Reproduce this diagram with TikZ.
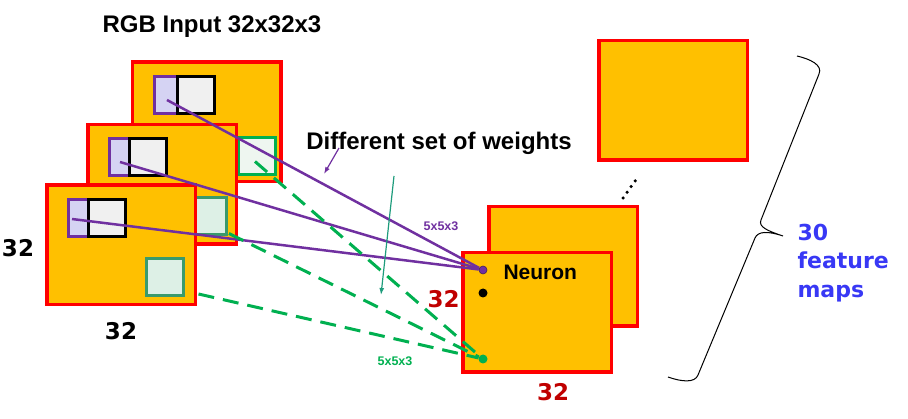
\documentclass[tikz,border=0pt]{standalone}
\usepackage{fontspec}
\setmainfont{Liberation Sans}
\newfontfamily\verdana{DejaVu Sans}
\usetikzlibrary{arrows.meta, calc}

\definecolor{ouro}{HTML}{FFC000}
\definecolor{vermelho}{HTML}{FF0000}
\definecolor{roxo}{HTML}{7030A0}
\definecolor{lavanda}{HTML}{D5D3F3}
\definecolor{cinza}{HTML}{F0F0F0}
\definecolor{verde}{HTML}{00B050}
\definecolor{verdeesc}{HTML}{3A9A6C}
\definecolor{verdeclaro}{HTML}{DDF0E6}
\definecolor{verdeb}{HTML}{EEF6F0}
\definecolor{vinho}{HTML}{C00000}
\definecolor{azul}{HTML}{3838F5}
\definecolor{turquesa}{HTML}{1E9C7C}

\tikzset{
  mapa/.style={draw=vermelho, fill=ouro, line width=3.5pt, inner sep=0pt,
               minimum width=148.5pt, minimum height=119.5pt},
  quadro/.style={line width=3pt, inner sep=0pt, minimum size=37pt},
  ponto/.style={circle, inner sep=0pt, minimum size=8pt},
  titulo/.style={font=\bfseries\fontsize{24}{28}\selectfont},
  dim/.style={font=\verdana\bfseries\fontsize{23}{28}\selectfont},
  peso/.style={font=\bfseries\fontsize{12.5}{14}\selectfont},
  ligroxo/.style={draw=roxo, line width=2.5pt},
  ligverde/.style={draw=verde, line width=3pt, dash pattern=on 16pt off 9pt}
}

\begin{document}
\begin{tikzpicture}[x=1pt, y=-1pt]
  \useasboundingbox (0,0) rectangle (908,419);
  % Entrada RGB (tres canais)
  \node[mapa] (inB) at (206.5,122) {};
  \node[quadro, draw=roxo, fill=lavanda] (pB) at (173,95) {};
  \node[quadro, draw=black, fill=cinza] (kB) at (195.5,95) {};
  \node[quadro, draw=verde, fill=verdeb] (gB) at (257,156.5) {};
  \node[mapa] (inM) at (162,184.5) {};
  \node[quadro, draw=roxo, fill=lavanda] (pM) at (128,157) {};
  \node[quadro, draw=black, fill=cinza] (kM) at (148,157) {};
  \node[quadro, draw=verdeesc, fill=verdeclaro] (gM) at (208,216.5) {};
  \node[mapa] (inF) at (121,245) {};
  \node[quadro, draw=roxo, fill=lavanda] (pF) at (87,218) {};
  \node[quadro, draw=black, fill=cinza] (kF) at (106.5,218) {};
  \node[quadro, draw=verdeesc, fill=verdeclaro] (gF) at (164.5,277) {};
  % Mapas de ativacao
  \node[mapa] (outT) at (673,100.5) {};
  \node[mapa] (outB) at (563,266.5) {};
  \node[mapa] (outF) at (537,312.5) {};
  \node[ponto, fill=roxo, draw=roxo!60!black, line width=0.6pt] (neuronio) at (483,270) {};
  \node[ponto, fill=black, minimum width=7pt, minimum height=9pt] (pontopreto) at (483,293) {};
  \node[ponto, fill=verde, minimum size=9pt] (neuroverde) at (483,359) {};
  % Ligacoes (pesos)
  \draw[ligroxo] ($(pB.center)+(-6,5)$) -- (neuronio);
  \draw[ligroxo] ($(pM.center)+(-8,5)$) -- (neuronio);
  \draw[ligroxo] ($(pF.center)+(-15,1)$) -- (neuronio);
  \draw[ligverde] ($(gB.center)+(-2,5)$) -- (neuroverde);
  \draw[ligverde] ($(gM.south east)+(1,-3)$) -- (neuroverde);
  \draw[ligverde] ($(gF.east)+(14,17)$) -- (neuroverde);
  % Textos
  \node[titulo] (rgb) at (212,27) {RGB Input 32x32x3};
  \node[titulo] (pesos) at (439,143) {Different set of weights};
  \node[font=\bfseries\fontsize{21}{24}\selectfont, anchor=west] (rotneuronio) at (500,272) {Neuron};
  \node[peso, text=roxo] (pesoroxo) at (441,226) {5x5x3};
  \node[peso, text=verde] (pesoverde) at (395,361) {5x5x3};
  \node[dim] (alt) at (18,248) {32};
  \node[dim] (larg) at (121,331) {32};
  \node[dim, text=vinho] (altsaida) at (443.5,299) {32};
  \node[dim, text=vinho] (largsaida) at (553,392) {32};
  \node[font=\verdana\bfseries\fontsize{22}{28.5}\selectfont, text=azul, align=left, anchor=west]
    (mapas) at (794,263) {30\\feature\\maps};
  % Setas de anotacao
  \coordinate (sr0) at (339,148);
  \coordinate (sr1) at (324,174);
  \coordinate (sv0) at (394,176);
  \coordinate (sv1) at (381,295);
  \draw[-{Latex[length=7pt,width=5pt]}, roxo, line width=1.2pt] (sr0) -- (sr1);
  \draw[-{Latex[length=7pt,width=5pt]}, turquesa, line width=1.2pt] (sv0) -- (sv1);
  % Reticencias
  \coordinate (r0) at (623,198);
  \coordinate (r1) at (638,177);
  \draw[line width=3.5pt, line cap=round, dash pattern=on 0pt off 7pt] (r0) -- (r1);
  % Chave inclinada
  \draw[line width=1pt] (797,56) .. controls (810,59) and (823,65) .. (819,74)
    -- (761,220) .. controls (758,227) and (768,231) .. (783,236)
    .. controls (768,231) and (758,231) .. (755,238)
    -- (698,375) .. controls (695,383) and (682,382) .. (668,377);
\end{tikzpicture}
\end{document}
